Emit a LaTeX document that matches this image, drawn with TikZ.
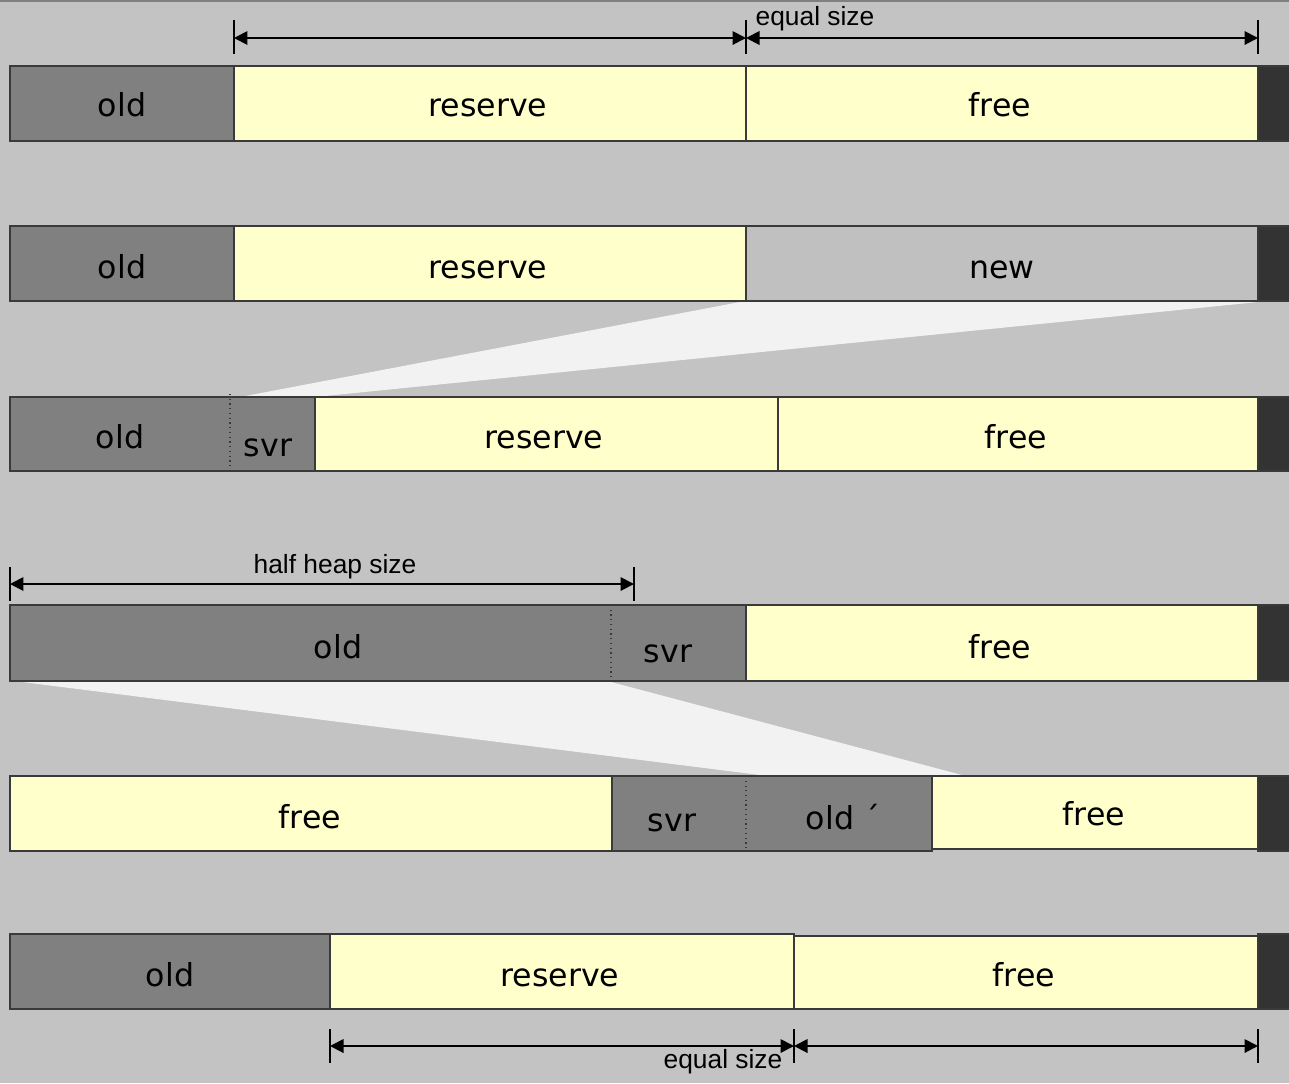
\documentclass[tikz,border=0pt]{standalone}
\usepackage{fontspec}
\setmainfont{DejaVu Sans}
\newfontfamily\dimfont{Liberation Sans}
\usepackage{xcolor}
\usetikzlibrary{arrows.meta}
\definecolor{backdrop}{HTML}{C3C3C3}
\definecolor{heapold}{HTML}{808080}
\definecolor{heapfree}{HTML}{FFFFCC}
\definecolor{heapnew}{HTML}{C0C0C0}
\definecolor{heapend}{HTML}{333333}
\definecolor{heapline}{HTML}{3A3A3A}
\definecolor{copyarea}{HTML}{F2F2F2}
\newcommand{\heapblock}[5]{ % Takes left x, right x, top y, bottom y, fill colour as arguments
    \filldraw[block, fill=#5] (#1,#3) rectangle (#2,#4);
}
\newcommand{\sizetick}[2]{ % Takes x and y of the size arrow, draws the short upright bar there
    \draw[tickbar] (#1,#2-17) -- (#1,#2+17);
}

\begin{document}
\begin{tikzpicture}[x=0.02cm, y=-0.02cm,
    block/.style={draw=heapline, line width=1.1pt},
    blocktext/.style={font=\fontsize{18}{20}\selectfont, anchor=base, inner sep=0pt},
    dimtext/.style={font=\dimfont\fontsize{15}{17}\selectfont, anchor=base, inner sep=0pt},
    sizearrow/.style={{Triangle[length=0.27cm,width=0.27cm]}-{Triangle[length=0.27cm,width=0.27cm]}, line width=1.1pt},
    tickbar/.style={line width=1.1pt},
    splitline/.style={draw=heapline, dotted, line width=0.7pt}]
    \useasboundingbox (0,0) rectangle (1289,1083);
    \fill[backdrop] (0,0) rectangle (1289,1083);
    \draw[line width=1.2pt, color=heapold] (0,1) -- (1289,1);

    % Copy areas between the rows
    \fill[copyarea] (740,302) -- (1258,302) -- (315,397) -- (240,397) -- cycle;
    \fill[copyarea] (22,682) -- (611,682) -- (962,775) -- (760,775) -- cycle;

    % Row 1
    \heapblock{10}{234}{66}{141}{heapold}
    \heapblock{234}{746}{66}{141}{heapfree}
    \heapblock{746}{1258}{66}{141}{heapfree}
    \heapblock{1258}{1295}{66}{141}{heapend}
    \node[blocktext] (oldA) at (122,116) {old};
    \node[blocktext] (reserveA) at (488,116) {reserve};
    \node[blocktext] (freeA) at (1000,116) {free};

    % Row 2
    \heapblock{10}{234}{226}{301}{heapold}
    \heapblock{234}{746}{226}{301}{heapfree}
    \heapblock{746}{1258}{226}{301}{heapnew}
    \heapblock{1258}{1295}{226}{301}{heapend}
    \node[blocktext] (oldB) at (122,278) {old};
    \node[blocktext] (reserveB) at (488,278) {reserve};
    \node[blocktext] (newB) at (1002,278) {new};

    % Row 3
    \heapblock{10}{315}{397}{471}{heapold}
    \heapblock{315}{778}{397}{471}{heapfree}
    \heapblock{778}{1258}{397}{471}{heapfree}
    \heapblock{1258}{1295}{397}{471}{heapend}
    \draw[splitline] (230,394) -- (230,471);
    \node[blocktext] (oldC) at (120,448) {old};
    \node[blocktext] (svrC) at (268,456) {svr};
    \node[blocktext] (reserveC) at (544,448) {reserve};
    \node[blocktext] (freeC) at (1016,448) {free};

    % Row 4
    \heapblock{10}{746}{605}{681}{heapold}
    \heapblock{746}{1258}{605}{681}{heapfree}
    \heapblock{1258}{1295}{605}{681}{heapend}
    \draw[splitline] (611,605) -- (611,681);
    \node[blocktext] (oldD) at (338,658) {old};
    \node[blocktext] (svrD) at (668,662) {svr};
    \node[blocktext] (freeD) at (1000,658) {free};

    % Row 5
    \heapblock{10}{612}{776}{851}{heapfree}
    \heapblock{612}{932}{776}{851}{heapold}
    \heapblock{932}{1258}{776}{849}{heapfree}
    \heapblock{1258}{1295}{776}{851}{heapend}
    \draw[splitline] (746,776) -- (746,851);
    \node[blocktext] (freeE) at (310,828) {free};
    \node[blocktext] (svrE) at (672,831) {svr};
    \node[blocktext] (oldE) at (843,829) {old ´};
    \node[blocktext] (freeF) at (1094,825) {free};

    % Row 6
    \heapblock{10}{330}{934}{1009}{heapold}
    \heapblock{330}{794}{934}{1009}{heapfree}
    \heapblock{794}{1258}{936}{1009}{heapfree}
    \heapblock{1258}{1295}{934}{1009}{heapend}
    \node[blocktext] (oldG) at (170,986) {old};
    \node[blocktext] (reserveG) at (560,986) {reserve};
    \node[blocktext] (freeG) at (1024,986) {free};

    % Size arrows
    \coordinate (topL) at (234,38);
    \coordinate (topM) at (746,38);
    \coordinate (topR) at (1258,38);
    \foreach \x in {234,746,1258} {\sizetick{\x}{37}}
    \draw[sizearrow] (topL) -- (topM);
    \draw[sizearrow] (topM) -- (topR);
    \node[dimtext] (equalTop) at (815,25) {equal size};

    \coordinate (halfL) at (10,584);
    \coordinate (halfR) at (634,584);
    \foreach \x in {10,634} {\sizetick{\x}{584}}
    \draw[sizearrow] (halfL) -- (halfR);
    \node[dimtext] (halfHeap) at (335,573) {half heap size};

    \coordinate (botL) at (330,1046);
    \coordinate (botM) at (794,1046);
    \coordinate (botR) at (1258,1046);
    \foreach \x in {330,794,1258} {\sizetick{\x}{1046}}
    \draw[sizearrow] (botL) -- (botM);
    \draw[sizearrow] (botM) -- (botR);
    \node[dimtext] (equalBot) at (723,1068) {equal size};
\end{tikzpicture}
\end{document}
